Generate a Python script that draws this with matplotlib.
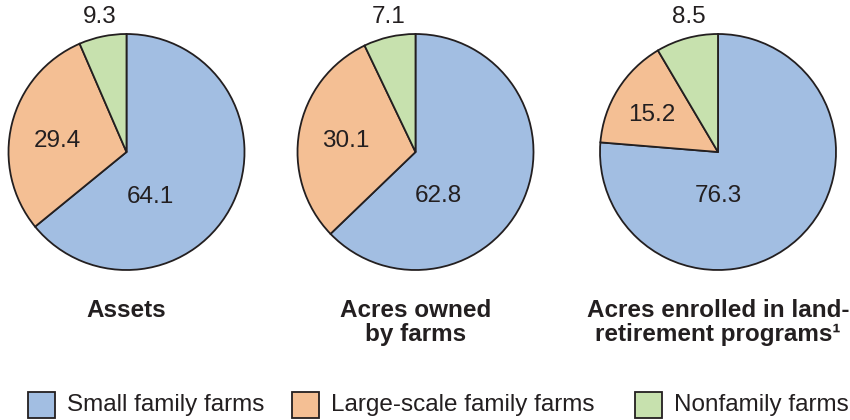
import matplotlib
matplotlib.use("Agg")
import matplotlib.pyplot as plt
from matplotlib.patches import Rectangle

plt.rcParams['font.family'] = ['Liberation Sans', 'DejaVu Sans']

# data
categories = ['Small family farms', 'Large-scale family farms', 'Nonfamily farms']
titles = ['Assets', 'Acres owned\nby farms', 'Acres enrolled in land-\nretirement programs\u00b9']
assets = [64.1, 29.4, 9.3]
acres_owned = [62.8, 30.1, 7.1]
acres_retired = [76.3, 15.2, 8.5]
series = [assets, acres_owned, acres_retired]

colors = ['#A2BEE2', '#F4BF94', '#C7E1AE']
edge = '#231F20'
txt = '#231F20'

# one axes in pixel units, y up
fig = plt.figure(figsize=(8.5, 4.2), dpi=100)
ax = fig.add_axes([0, 0, 1, 1])
ax.axis('off')

centers = [(126.5, 268), (415.5, 268), (718, 268)]
R = 118
# label offsets (in radius units) for small / large / nonfamily
offsets = [
    [(0.20, -0.38), (-0.59, 0.09), (-0.23, 1.14)],
    [(0.19, -0.37), (-0.59, 0.09), (-0.23, 1.14)],
    [(0.00, -0.37), (-0.56, 0.31), (-0.25, 1.14)],
]

for vals, (cx, cy), offs, title in zip(series, centers, offsets, titles):
    # the original drawing fills the last slice with whatever is left of 100%
    shares = [vals[0], vals[1], max(100 - vals[0] - vals[1], 0)]
    ax.pie(shares, colors=colors, startangle=90, counterclock=False,
           center=(cx, cy), radius=R,
           wedgeprops=dict(edgecolor=edge, linewidth=1.3))
    for v, (ox, oy) in zip(vals, offs):
        ax.text(cx + ox * R, cy + oy * R, f'{v:.1f}', ha='center', va='center',
                fontsize=17.5, color=txt)
    ax.text(cx, 420 - 299, title, ha='center', va='top', fontsize=17.5,
            fontweight='bold', color=txt, linespacing=1.08)

ax.set_xlim(0, 850)
ax.set_ylim(0, 420)
ax.set_aspect('auto')

# legend
patch_x = [28, 292, 635]
for name, c, px in zip(categories, colors, patch_x):
    ax.add_patch(Rectangle((px, 2), 27, 26, facecolor=c, edgecolor=edge, linewidth=1.3))
    ax.text(px + 39, 15, name, ha='left', va='center', fontsize=17.5, color=txt)

fig.savefig('out.png', dpi=100)
